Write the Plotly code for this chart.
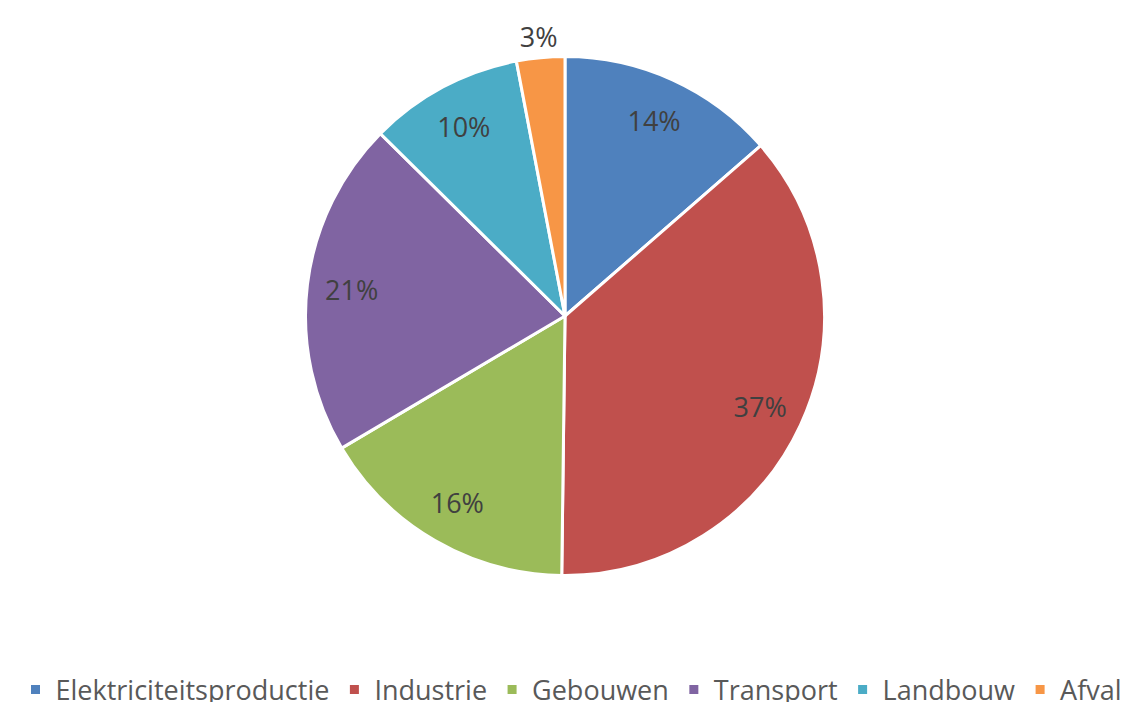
import plotly.graph_objects as go

categories = ["Elektriciteitsproductie", "Industrie", "Gebouwen", "Transport", "Landbouw", "Afval"]
values = [13.6, 36.6, 16.3, 20.9, 9.6, 3.0]
colors = ["#4F81BD", "#C0504D", "#9BBB59", "#8064A2", "#4BACC6", "#F79646"]

# label placement: big slices labelled in an inner ring, the small "Afval" slice above the pie
ring_text_pos = ["inside", "inside", "inside", "inside", "inside", "none"]
outer_text_pos = ["none", "none", "none", "none", "none", "inside"]

label_font = dict(family="Open Sans", size=27, color="#404040")
clear = ["rgba(0,0,0,0)"] * len(categories)
common = dict(labels=categories, values=values, sort=False, direction="clockwise", rotation=0)

# Full pie (slices)
fig = go.Figure(go.Pie(
    **common,
    marker=dict(colors=colors, line=dict(color="white", width=3)),
    textinfo="none",
    hoverinfo="label+percent",
    domain=dict(x=[0.26398, 0.72449], y=[0.18228, 0.93012]),
))

# Transparent ring carrying the percentage labels of the large slices
fig.add_trace(go.Pie(
    **common,
    hole=0.6135,
    marker=dict(colors=clear, line=dict(width=0)),
    texttemplate="%{percent:.0%}",
    textposition=ring_text_pos,
    insidetextorientation="horizontal",
    textfont=label_font,
    hoverinfo="skip",
    showlegend=False,
    domain=dict(x=[0.25776, 0.73070], y=[0.17219, 0.94020]),
))

# Transparent wider ring carrying the label of the small slice, above the pie
fig.add_trace(go.Pie(
    **common,
    hole=0.8,
    marker=dict(colors=clear, line=dict(width=0)),
    texttemplate="%{percent:.0%}",
    textposition=outer_text_pos,
    insidetextorientation="horizontal",
    textfont=label_font,
    hoverinfo="skip",
    showlegend=False,
    domain=dict(x=[(557 - 307) / 1127, (557 + 307) / 1127],
                y=[1 - (308 + 307) / 694, 1 - (308 - 307) / 694]),
))

fig.update_layout(
    width=1127, height=694,
    margin=dict(l=0, r=0, t=0, b=0, autoexpand=False),
    paper_bgcolor="white",
    plot_bgcolor="white",
    showlegend=True,
    legend=dict(
        orientation="h",
        x=0.5, xanchor="center",
        y=-0.018, yanchor="bottom",
        font=dict(family="Open Sans", size=27, color="#595959"),
        itemwidth=30,
    ),
)

fig.write_html("out.html")
